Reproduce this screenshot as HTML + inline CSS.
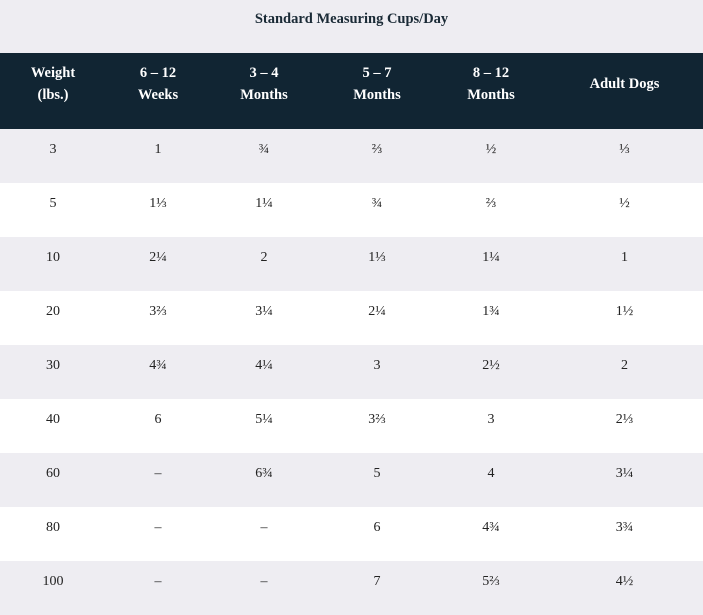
<!DOCTYPE html>
<html><head><style>
body{margin:0;width:703px;height:612px;background:#fff;font-family:"Liberation Serif",serif;color:#222;overflow:hidden}
.title{height:53px;background:#eeedf2;text-align:center;font-weight:bold;font-size:14.5px;line-height:38px;color:#1a2a36}
table{border-collapse:collapse;width:703px;table-layout:fixed}
th{background:#112533;color:#fff;font-weight:bold;font-size:14.5px;line-height:22px;height:62px;padding:0 0 14px 0}
td{height:41px;padding:0 0 13px 0;text-align:center;font-size:14px}
tr:nth-child(even) td{background:#eeedf2}
</style></head><body>
<div class="title">Standard Measuring Cups/Day</div>
<table>
<colgroup><col style="width:106px"><col style="width:104px"><col style="width:108px"><col style="width:118px"><col style="width:110px"><col style="width:157px"></colgroup>
<tr><th>Weight<br>(lbs.)</th><th>6 – 12<br>Weeks</th><th>3 – 4<br>Months</th><th>5 – 7<br>Months</th><th>8 – 12<br>Months</th><th>Adult Dogs</th></tr>
<tr><td>3</td><td>1</td><td>¾</td><td>⅔</td><td>½</td><td>⅓</td></tr>
<tr><td>5</td><td>1⅓</td><td>1¼</td><td>¾</td><td>⅔</td><td>½</td></tr>
<tr><td>10</td><td>2¼</td><td>2</td><td>1⅓</td><td>1¼</td><td>1</td></tr>
<tr><td>20</td><td>3⅔</td><td>3¼</td><td>2¼</td><td>1¾</td><td>1½</td></tr>
<tr><td>30</td><td>4¾</td><td>4¼</td><td>3</td><td>2½</td><td>2</td></tr>
<tr><td>40</td><td>6</td><td>5¼</td><td>3⅔</td><td>3</td><td>2⅓</td></tr>
<tr><td>60</td><td>–</td><td>6¾</td><td>5</td><td>4</td><td>3¼</td></tr>
<tr><td>80</td><td>–</td><td>–</td><td>6</td><td>4¾</td><td>3¾</td></tr>
<tr><td>100</td><td>–</td><td>–</td><td>7</td><td>5⅔</td><td>4½</td></tr>
</table>
</body></html>
